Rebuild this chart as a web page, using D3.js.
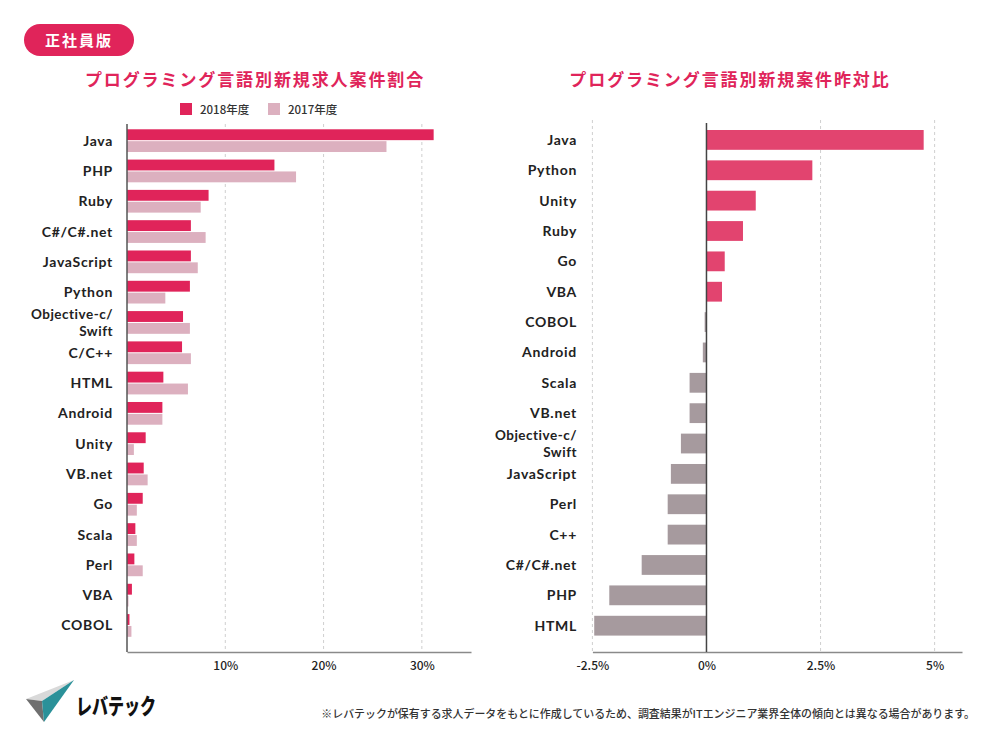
<!DOCTYPE html>
<html>
<head>
<meta charset="utf-8">
<script src="https://cdn.jsdelivr.net/npm/d3@7"></script>
<style>
    body { margin: 0; background: #fff; }
    svg { display: block; font-family: "Noto Sans CJK JP", "Noto Sans", sans-serif; }
</style>
</head>
<body>
<svg id="chart" width="1000" height="744"></svg>
<script>
// left chart: share of new job postings by language (%)
const shareLangs = ["Java", "PHP", "Ruby", "C#/C#.net", "JavaScript", "Python", "Objective-c/\nSwift", "C/C++",
    "HTML", "Android", "Unity", "VB.net", "Go", "Scala", "Perl", "VBA", "COBOL"];
const share2018 = [31.2, 15.0, 8.3, 6.5, 6.5, 6.4, 5.7, 5.6, 3.7, 3.6, 1.9, 1.7, 1.6, 0.85, 0.75, 0.5, 0.25];
const share2017 = [26.4, 17.2, 7.5, 8.0, 7.2, 3.9, 6.4, 6.5, 6.2, 3.6, 0.7, 2.1, 1.0, 1.0, 1.6, 0.15, 0.45];
const shareTicks = [10, 20, 30];
const seriesNames = ["2018年度", "2017年度"];

// right chart: year-on-year change (points)
const yoyLangs = ["Java", "Python", "Unity", "Ruby", "Go", "VBA", "COBOL", "Android", "Scala", "VB.net",
    "Objective-c/\nSwift", "JavaScript", "Perl", "C++", "C#/C#.net", "PHP", "HTML"];
const yoyValues = [4.76, 2.32, 1.08, 0.80, 0.40, 0.34, -0.04, -0.08, -0.37, -0.37, -0.56, -0.78, -0.85, -0.85, -1.42, -2.13, -2.46];
const yoyTicks = [-2.5, 0, 2.5, 5];

const PINK = "#e0245a";
const LIGHT_PINK = "#dcb0bf";
const POS = "#e2446f";
const NEG = "#a69a9e";
const LABEL_FONT = "Lato, 'Noto Sans', sans-serif";

const svg = d3.select("#chart");

function drawLabels(g, y, langs, xRight) {
    langs.forEach(function (d) {
        let lines = d.split("\n");
        let cy = y(d) + y.bandwidth() / 2;
        let offsets = lines.length === 1 ? [0] : [-7.9, 8.5];
        lines.forEach(function (line, k) {
            g.append("text")
                .attr("x", xRight).attr("y", cy + offsets[k]).attr("dy", "0.36em")
                .attr("text-anchor", "end")
                .attr("font-family", LABEL_FONT)
                .attr("font-size", lines.length === 1 ? 14 : 13.5)
                .attr("font-weight", 700)
                .attr("letter-spacing", lines.length === 1 ? 0.7 : 0.5)
                .attr("fill", "#222")
                .text(line);
        });
    });
}

function drawGrid(g, x, ticks, y0, y1) {
    g.selectAll(".grid")
        .data(ticks)
        .join("line")
        .attr("x1", d => x(d))
        .attr("x2", d => x(d))
        .attr("y1", y0)
        .attr("y2", y1)
        .attr("stroke", "#cfcfcf")
        .attr("stroke-dasharray", "3,3");
}

function drawBottomAxis(g, x, ticks, yPos, fmt) {
    g.append("g")
        .attr("transform", `translate(0,${yPos})`)
        .call(d3.axisBottom(x).tickValues(ticks).tickSize(0).tickPadding(9).tickFormat(fmt))
        .call(a => a.select(".domain").attr("stroke", "#8a8a8a").attr("stroke-width", 1.5))
        .call(a => a.selectAll(".tick text")
            .attr("font-family", "'Noto Sans CJK JP', sans-serif")
            .attr("font-size", 12)
            .attr("font-weight", 500)
            .attr("fill", "#222"));
}

function drawTitle(cx, text) {
    svg.append("text")
        .attr("x", cx)
        .attr("y", 86)
        .attr("text-anchor", "middle")
        .attr("font-size", 17)
        .attr("font-weight", 700)
        .attr("letter-spacing", 1.9)
        .attr("fill", PINK)
        .text(text);
}

function drawShareChart() {
    const g = svg.append("g");
    const x = d3.scaleLinear().domain([0, 35]).range([127, 471]);
    const y = d3.scaleBand().domain(shareLangs).range([125.5, 640.6]).paddingInner(0.25).paddingOuter(0.125);
    const half = y.bandwidth() / 2;

    drawGrid(g, x, shareTicks, 124, 652);

    g.selectAll(".b2018")
        .data(shareLangs)
        .join("rect")
        .attr("x", x(0))
        .attr("y", d => y(d))
        .attr("width", (d, i) => x(share2018[i]) - x(0))
        .attr("height", half - 0.5)
        .attr("fill", PINK);

    g.selectAll(".b2017")
        .data(shareLangs)
        .join("rect")
        .attr("x", x(0))
        .attr("y", d => y(d) + half + 0.5)
        .attr("width", (d, i) => x(share2017[i]) - x(0))
        .attr("height", half - 0.5)
        .attr("fill", LIGHT_PINK);

    drawBottomAxis(g, x, shareTicks, 652, d => d + "%");

    g.append("line")
        .attr("x1", x(0)).attr("x2", x(0))
        .attr("y1", 124).attr("y2", 652)
        .attr("stroke", "#555")
        .attr("stroke-width", 1.5);

    drawLabels(g, y, shareLangs, 113);
    drawTitle(255, "プログラミング言語別新規求人案件割合");

    // legend
    const legend = svg.append("g");
    [PINK, LIGHT_PINK].forEach(function (c, i) {
        let lx = 180 + i * 88;
        legend.append("rect")
            .attr("x", lx).attr("y", 103)
            .attr("width", 12).attr("height", 12)
            .attr("fill", c);
        legend.append("text")
            .attr("x", lx + 20).attr("y", 113.5)
            .attr("font-size", 11.5)
            .attr("font-weight", 500)
            .attr("fill", "#333")
            .text(seriesNames[i]);
    });
}

function drawYoyChart() {
    const g = svg.append("g");
    const x = d3.scaleLinear().domain([-2.5, 5.6]).range([592.4, 962]);
    const y = d3.scaleBand().domain(yoyLangs).range([120.9, 644.7]).paddingInner(0.348).paddingOuter(0.3);

    drawGrid(g, x, yoyTicks.filter(d => d !== 0), 120, 652);

    g.selectAll(".bar")
        .data(yoyLangs)
        .join("rect")
        .attr("x", (d, i) => x(Math.min(0, yoyValues[i])))
        .attr("y", d => y(d))
        .attr("width", (d, i) => Math.abs(x(yoyValues[i]) - x(0)))
        .attr("height", y.bandwidth())
        .attr("fill", (d, i) => yoyValues[i] >= 0 ? POS : NEG);

    drawBottomAxis(g, x, yoyTicks, 652, d => d + "%");

    g.append("line")
        .attr("x1", x(0)).attr("x2", x(0))
        .attr("y1", 123).attr("y2", 652)
        .attr("stroke", "#444")
        .attr("stroke-width", 1.5);

    drawLabels(g, y, yoyLangs, 577);
    drawTitle(730, "プログラミング言語別新規案件昨対比");
}

function drawBadge() {
    svg.append("rect")
        .attr("x", 24).attr("y", 24)
        .attr("width", 110).attr("height", 32)
        .attr("rx", 16)
        .attr("fill", PINK);
    svg.append("text")
        .attr("x", 79).attr("y", 46)
        .attr("text-anchor", "middle")
        .attr("font-size", 15)
        .attr("font-weight", 700)
        .attr("letter-spacing", 2)
        .attr("fill", "#fff")
        .text("正社員版");
}

function drawFooter() {
    const logo = svg.append("g");
    logo.append("path").attr("d", "M26,699 L74,680 L42,701 Z").attr("fill", "#d9d9d9");
    logo.append("path").attr("d", "M26,699 L42,701 L44,722 Z").attr("fill", "#6f6f6f");
    logo.append("path").attr("d", "M74,680 L42,701 L44,722 Z").attr("fill", "#2a9199");
    logo.append("text")
        .attr("x", 76).attr("y", 714)
        .attr("font-size", 22)
        .attr("font-weight", 900)
        .attr("textLength", 80)
        .attr("lengthAdjust", "spacingAndGlyphs")
        .attr("fill", "#111")
        .text("レバテック");

    svg.append("text")
        .attr("x", 975).attr("y", 718)
        .attr("text-anchor", "end")
        .attr("font-size", 10.95)
        .attr("font-weight", 500)
        .attr("fill", "#333")
        .text("※レバテックが保有する求人データをもとに作成しているため、調査結果がITエンジニア業界全体の傾向とは異なる場合があります。");
}

drawBadge();
drawShareChart();
drawYoyChart();
drawFooter();
</script>
</body>
</html>
